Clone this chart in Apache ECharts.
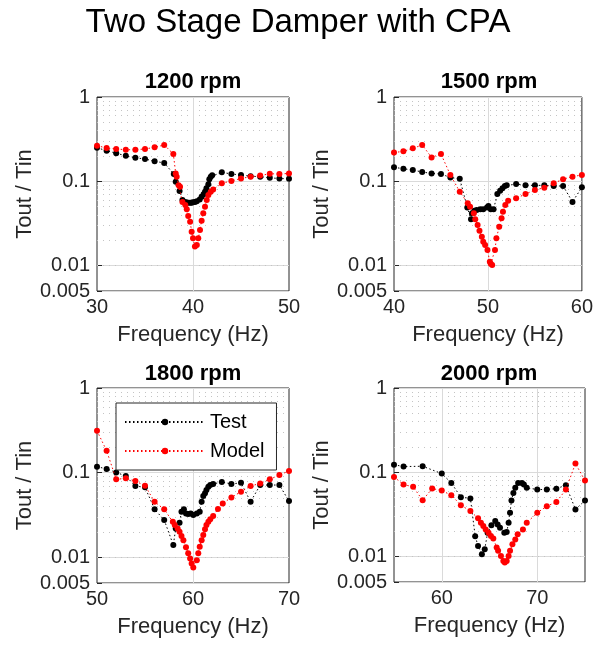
<!DOCTYPE html>
<html>
<head>
<meta charset="utf-8">
<script src="https://cdn.jsdelivr.net/npm/echarts@6/dist/echarts.min.js"></script>
<style>
  html, body { margin: 0; padding: 0; background: #fff; }
  #chart { width: 596px; height: 645px; }
</style>
</head>
<body>
<div id="chart"></div>
<script>
// 1200 rpm
const freqTest1200 = [30, 31, 32, 33, 34, 35, 36, 37, 38.0, 38.2, 38.6, 38.9, 39.1, 39.3, 39.5, 39.7, 39.85, 40.0, 40.2, 40.4, 40.7, 40.9, 41.1, 41.25, 41.4, 41.6, 41.7, 41.85, 42.0, 43, 44, 45, 46, 47, 48, 49, 50];
const ratioTest1200 = [0.25, 0.231, 0.215, 0.201, 0.19, 0.184, 0.173, 0.165, 0.122, 0.099, 0.077, 0.060, 0.057, 0.0564, 0.0558, 0.0557, 0.0558, 0.0564, 0.057, 0.058, 0.061, 0.0656, 0.070, 0.0753, 0.0826, 0.092, 0.106, 0.1135, 0.118, 0.128, 0.122, 0.119, 0.115, 0.1135, 0.110, 0.108, 0.107];
const freqModel1200 = [30, 31, 32, 33, 34, 35, 36, 37, 37.95, 38.2, 38.3, 38.5, 38.65, 38.9, 39.2, 39.35, 39.5, 39.7, 39.86, 40.0, 40.2, 40.4, 40.55, 40.73, 40.9, 41.07, 41.25, 41.43, 41.6, 41.85, 42.1, 43, 44, 45, 46, 47, 48, 49, 50];
const ratioModel1200 = [0.265, 0.248, 0.242, 0.237, 0.237, 0.242, 0.253, 0.27, 0.211, 0.124, 0.1135, 0.090, 0.086, 0.057, 0.0524, 0.0466, 0.0388, 0.0332, 0.0252, 0.0211, 0.0168, 0.0176, 0.0211, 0.0264, 0.0341, 0.0417, 0.050, 0.060, 0.0688, 0.0753, 0.080, 0.0947, 0.101, 0.108, 0.1135, 0.117, 0.123, 0.122, 0.124];

// 1500 rpm
const freqTest1500 = [40, 41, 42, 43, 44, 45, 46, 47, 47.8, 48.2, 48.3, 48.55, 48.8, 49.2, 49.5, 49.9, 50.05, 50.3, 50.6, 51.0, 51.3, 51.55, 51.8, 52.0, 53, 54, 55, 56, 57, 58, 59, 60];
const ratioTest1500 = [0.1465, 0.141, 0.136, 0.129, 0.124, 0.122, 0.111, 0.107, 0.049, 0.0354, 0.0417, 0.0448, 0.0457, 0.0466, 0.0466, 0.049, 0.0509, 0.0466, 0.0466, 0.0707, 0.0774, 0.0826, 0.088, 0.090, 0.093, 0.090, 0.0895, 0.0895, 0.088, 0.088, 0.057, 0.085];
const freqModel1500 = [40, 41, 42, 43, 44, 45, 46, 47, 47.85, 48.1, 48.5, 48.65, 48.9, 49.1, 49.35, 49.5, 49.7, 49.95, 50.2, 50.3, 50.45, 50.75, 50.9, 51.2, 51.45, 51.6, 51.85, 52.15, 53, 54, 55, 56, 57, 58, 59, 60];
const ratioModel1500 = [0.219, 0.227, 0.246, 0.27, 0.192, 0.211, 0.119, 0.0753, 0.0548, 0.050, 0.0417, 0.0354, 0.0303, 0.0259, 0.022, 0.0192, 0.0176, 0.0153, 0.0111, 0.0105, 0.0102, 0.0153, 0.0211, 0.029, 0.0364, 0.0436, 0.0524, 0.0589, 0.0628, 0.0707, 0.0788, 0.084, 0.0947, 0.106, 0.1135, 0.119];

// 1800 rpm
const freqTest1800 = [50, 51, 52, 53, 54, 55, 56, 57, 57.95, 58.2, 58.6, 58.8, 59.05, 59.27, 59.5, 59.76, 60.03, 60.4, 60.7, 60.9, 61.07, 61.25, 61.4, 61.6, 61.8, 62.1, 63, 64, 65, 66, 67, 68, 69, 70];
const ratioTest1800 = [0.118, 0.111, 0.101, 0.0914, 0.0697, 0.0673, 0.037, 0.0277, 0.014, 0.022, 0.0257, 0.0347, 0.037, 0.0331, 0.0325, 0.0331, 0.0317, 0.0331, 0.0347, 0.0455, 0.053, 0.0571, 0.0625, 0.0684, 0.0716, 0.0736, 0.078, 0.0736, 0.0762, 0.0455, 0.0716, 0.0716, 0.0716, 0.0463];
const freqModel1800 = [50, 51, 52, 53, 54, 55, 56, 57, 57.9, 58.1, 58.4, 58.6, 58.8, 59.0, 59.27, 59.5, 59.7, 59.86, 60.03, 60.4, 60.55, 60.7, 60.9, 61.07, 61.25, 61.4, 61.6, 61.8, 62.1, 62.6, 63.1, 64, 65, 66, 67, 68, 69, 70];
const ratioModel1800 = [0.313, 0.182, 0.0836, 0.0859, 0.0798, 0.0703, 0.0455, 0.037, 0.0264, 0.0241, 0.022, 0.0201, 0.0179, 0.016, 0.0132, 0.0112, 0.00975, 0.0085, 0.0076, 0.0093, 0.0112, 0.0134, 0.016, 0.0184, 0.0215, 0.0241, 0.0264, 0.0282, 0.0308, 0.0373, 0.0435, 0.0512, 0.0597, 0.0697, 0.0749, 0.0836, 0.094, 0.105];

// 2000 rpm
const freqTest2000 = [55, 56, 58, 60, 61, 62, 63, 63.5, 63.8, 64.2, 64.5, 64.8, 65.2, 65.6, 65.85, 66.1, 66.55, 66.8, 67.0, 67.15, 67.3, 67.5, 67.7, 68.0, 68.4, 68.6, 68.9, 70, 71, 72, 73, 74, 75];
const ratioTest2000 = [0.123, 0.117, 0.118, 0.0966, 0.0749, 0.0507, 0.049, 0.0175, 0.0134, 0.0107, 0.0122, 0.0192, 0.0235, 0.0264, 0.0241, 0.022, 0.0192, 0.0196, 0.0252, 0.0331, 0.0463, 0.057, 0.0654, 0.0749, 0.0749, 0.0716, 0.0654, 0.0625, 0.0625, 0.064, 0.0703, 0.0363, 0.0463];
const freqModel2000 = [55, 56, 57, 58, 59, 60, 61, 62, 63, 63.8, 64.1, 64.35, 64.6, 64.9, 65.15, 65.4, 65.75, 65.9, 66.2, 66.45, 66.6, 66.8, 67.0, 67.15, 67.4, 67.7, 67.95, 68.5, 68.9, 70, 71, 72, 73, 74, 75];
const ratioModel2000 = [0.088, 0.0716, 0.0673, 0.0467, 0.0642, 0.0608, 0.0535, 0.0408, 0.0347, 0.0285, 0.0252, 0.023, 0.021, 0.0192, 0.0176, 0.0164, 0.0128, 0.0117, 0.0102, 0.0089, 0.0085, 0.0089, 0.0102, 0.0117, 0.014, 0.016, 0.0184, 0.021, 0.0252, 0.0331, 0.0397, 0.0443, 0.0625, 0.127, 0.0798];

const panelTitles = ['1200 rpm', '1500 rpm', '1800 rpm', '2000 rpm'];
const xMins = [30, 40, 50, 55];
const xMaxs = [50, 60, 70, 75];
// major x grid lines inside each panel (tick labels are shown at multiples of 10)
const xGridLines = [[40], [50], [60], [60, 70]];
const minorLevels = [0.006, 0.007, 0.008, 0.009, 0.02, 0.03, 0.04, 0.05, 0.06, 0.07, 0.08, 0.09,
  0.2, 0.3, 0.4, 0.5, 0.6, 0.7, 0.8, 0.9];

const testFreqs = [freqTest1200, freqTest1500, freqTest1800, freqTest2000];
const testRatios = [ratioTest1200, ratioTest1500, ratioTest1800, ratioTest2000];
const modelFreqs = [freqModel1200, freqModel1500, freqModel1800, freqModel2000];
const modelRatios = [ratioModel1200, ratioModel1500, ratioModel1800, ratioModel2000];

const font = '"Liberation Sans", Arial, Helvetica, sans-serif';
const axisColor = '#262626';
const gridColor = '#dadada';

const gridBoxes = [
  { left: 97, top: 97, width: 192, height: 194 },
  { left: 394, top: 97, width: 191, height: 194 },
  { left: 97, top: 388, width: 192, height: 195 },
  { left: 394, top: 388, width: 191, height: 194 },
];

const zip = (xs, ys) => xs.map((x, i) => [x, ys[i]]);

const grids = gridBoxes.map((b) => ({
  ...b,
  show: true,
  borderColor: axisColor,
  borderWidth: 1,
  backgroundColor: '#fff',
}));

const xAxes = gridBoxes.map((b, i) => ({
  type: 'value',
  gridIndex: i,
  min: xMins[i],
  max: xMaxs[i],
  interval: 5,
  name: 'Frequency (Hz)',
  nameLocation: 'middle',
  nameGap: 33,
  nameTextStyle: { fontSize: 22, color: axisColor, fontFamily: font },
  axisLine: { show: false },
  axisTick: { show: false },
  axisLabel: {
    fontSize: 20, color: axisColor, margin: 6, fontFamily: font,
    showMinLabel: true, showMaxLabel: true,
    formatter: (v) => (v % 10 === 0 ? String(v) : ''),
  },
  splitLine: { show: false },
}));

const yAxes = gridBoxes.map((b, i) => ({
  type: 'log',
  logBase: 10,
  gridIndex: i,
  min: 0.005,
  max: 1,
  name: 'Tout / Tin',
  nameLocation: 'middle',
  nameGap: 58,
  nameTextStyle: { fontSize: 22, color: axisColor, fontFamily: font },
  axisLine: { show: false },
  axisTick: { show: true, inside: true, length: 5, lineStyle: { color: axisColor } },
  axisLabel: {
    fontSize: 20, color: axisColor, margin: 7, fontFamily: font,
    showMinLabel: true, showMaxLabel: true,
    formatter: (v) => String(+(+v).toPrecision(2)),
  },
  splitLine: { show: true, lineStyle: { color: gridColor, width: 1 } },
}));

const series = [];
for (let i = 0; i < 4; i++) {
  series.push({
    name: 'Test',
    type: 'line',
    xAxisIndex: i,
    yAxisIndex: i,
    data: zip(testFreqs[i], testRatios[i]),
    symbol: 'circle',
    symbolSize: 6,
    itemStyle: { color: '#000' },
    lineStyle: { color: '#000', width: 1, type: [1.5, 2.5] },
    z: 3,
    markLine: {
      silent: true,
      symbol: 'none',
      label: { show: false },
      lineStyle: { color: '#c4c4c4', width: 1, type: [1, 5] },
      data: minorLevels.map((v) => ({ yAxis: v })).concat(
        xGridLines[i].map((x) => ({ xAxis: x, lineStyle: { color: gridColor, type: 'solid', width: 1 } }))
      ),
      z: 1,
    },
  });
  series.push({
    name: 'Model',
    type: 'line',
    xAxisIndex: i,
    yAxisIndex: i,
    data: zip(modelFreqs[i], modelRatios[i]),
    symbol: 'circle',
    symbolSize: 6,
    itemStyle: { color: '#ff0000' },
    lineStyle: { color: '#ff0000', width: 1, type: [1.5, 2.5] },
    z: 4,
  });
}

const titleCenters = [
  { x: 193, y: 71 },
  { x: 489, y: 71 },
  { x: 193, y: 363 },
  { x: 489, y: 363 },
];

const titles = [{
  text: 'Two Stage Damper with CPA',
  left: 298,
  top: 6,
  textAlign: 'center',
  padding: 0,
  textStyle: { fontSize: 33, fontWeight: 'normal', color: '#000', fontFamily: font },
}].concat(panelTitles.map((t, i) => ({
  text: t,
  left: titleCenters[i].x,
  top: titleCenters[i].y,
  textAlign: 'center',
  padding: 0,
  textStyle: { fontSize: 22, fontWeight: 'bold', color: '#000', fontFamily: font },
})));

const chart = echarts.init(document.getElementById('chart'), null, { renderer: 'canvas' });
chart.setOption({
  animation: false,
  backgroundColor: '#fff',
  textStyle: { fontFamily: font },
  title: titles,
  grid: grids,
  xAxis: xAxes,
  yAxis: yAxes,
  legend: {
    data: ['Test', 'Model'],
    orient: 'vertical',
    left: 116,
    top: 403,
    padding: [8, 12, 8, 8],
    itemWidth: 80,
    itemHeight: 8,
    itemGap: 7,
    backgroundColor: '#fff',
    borderColor: axisColor,
    borderWidth: 1,
    z: 10,
    textStyle: { fontSize: 20, color: '#000', lineHeight: 22, fontFamily: font },
  },
  series: series,
});
</script>
</body>
</html>
